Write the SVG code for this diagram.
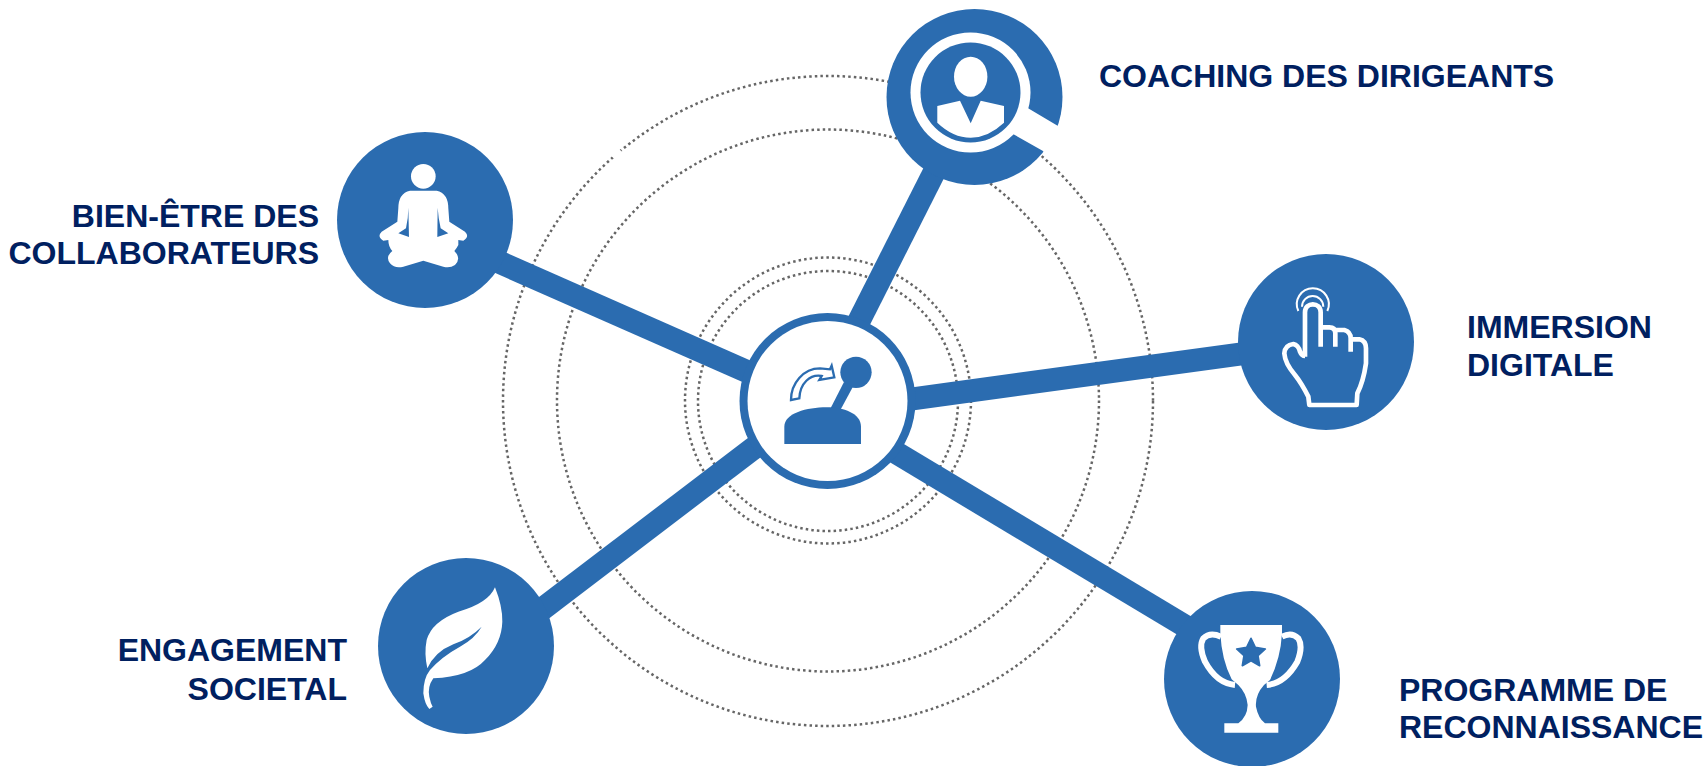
<svg xmlns="http://www.w3.org/2000/svg" width="1705" height="766" viewBox="0 0 1705 766">
<style>
.bg{fill:#fff}
.ring{fill:none;stroke:#666;stroke-width:2.5;stroke-dasharray:2.5 3.1}
.link{stroke:#2b6cb0;stroke-width:23;fill:none}
.disc{fill:#2b6cb0}
.w{fill:#fff}
.ws{fill:none;stroke:#fff;stroke-linejoin:round;stroke-linecap:butt}
.lbl{font-family:"Liberation Sans",Arial,sans-serif;font-weight:700;font-size:32px;fill:#002060}
.end{text-anchor:end}
</style>
<rect class="bg" width="1705" height="766"/>
<g id="rings">
<circle class="ring" cx="828" cy="401" r="325"/>
<circle class="ring" cx="828" cy="400.5" r="271"/>
<circle class="ring" cx="828" cy="400.5" r="143"/>
<circle class="ring" cx="828" cy="401" r="130"/>
<line x1="613.5" y1="158" x2="620" y2="150" stroke="#fff" stroke-width="5"/>
</g>
<g id="connectors">
<line class="link" x1="470" y1="249.3" x2="780" y2="386"/>
<line class="link" x1="947.6" y1="145.6" x2="830.8" y2="376.8"/>
<line class="link" x1="1260" y1="351.4" x2="880" y2="403.3"/>
<line class="link" x1="520" y1="626" x2="780" y2="428"/>
<line class="link" x1="1210" y1="641" x2="870" y2="437"/>
</g>
<g id="node-centre">
<circle class="disc" cx="827.5" cy="401" r="88"/>
<circle class="w" cx="827.5" cy="401" r="80"/>
<g transform="translate(720 300) scale(.3333)">
<circle class="disc" cx="408" cy="217" r="47"/>
<path class="disc" d="M372,246L398,262L360,332L331,326Z"/>
<path class="disc" d="M193,432V380C193,340 260,322 320,322C370,322 423,340 423,380V432Z"/>
<path d="M213,300C213,250 250,205 300,205L330,208L335,197L343,232L298,240L305,228C270,222 240,250 238,295Z" fill="#fff" stroke="#2b6cb0" stroke-width="7"/>
</g>
</g>
<g id="node-coaching">
<circle class="disc" cx="974.5" cy="97" r="88"/>
<circle class="w" cx="970.5" cy="92.5" r="60"/>
<circle class="disc" cx="970.5" cy="92.5" r="50"/>
<polygon class="w" points="1027.7,108 1058,126 1070,134 1050,160 1043,151 1013,134"/>
<ellipse class="w" cx="970.7" cy="76.7" rx="16.7" ry="20"/>
<path class="w" d="M937.3,106L960,100.7L970.7,123.3L980.7,100.7L1004,106V122.7Q988,137.7 970.7,137.7Q953,137.7 937.3,122.7Z"/>
<text class="lbl" x="1099" y="87">COACHING DES DIRIGEANTS</text>
</g>
<g id="node-bienetre">
<circle class="disc" cx="425" cy="220" r="88"/>
<g transform="translate(330 125) scale(.3333)">
<circle class="w" cx="280" cy="154" r="37"/>
<path class="w" d="M240,197H320Q355,205 355,250L358,290L405,320Q420,335 400,347L385,345V360Q380,370 373,378Q395,400 375,420Q360,430 340,425L280,407L220,425Q195,432 180,415Q165,395 187,378Q175,365 175,345L160,347Q140,335 155,320L202,290L205,250Q205,205 240,197Z"/>
<path class="disc" d="M235,248L237,336L205,325L228,310Q235,280 235,248Z"/>
<path class="disc" d="M323,248L322,336L355,325L332,310Q325,280 323,248Z"/>
</g>
<text class="lbl end" x="319" y="226.5">BIEN-ÊTRE DES</text>
<text class="lbl end" x="319" y="264">COLLABORATEURS</text>
</g>
<g id="node-immersion">
<circle class="disc" cx="1326" cy="342" r="88"/>
<g transform="translate(1230 250) scale(.3333)">
<path class="ws" stroke-width="14" d="M225,320V187C225,155 272,155 272,187V290M272,232H298Q316,232 316,250V290M316,240H343Q362,245 362,265V305M362,268H388Q408,272 408,295V340Q400,395 382,430L380,465H238L235,440Q215,400 195,375Q165,340 163,310Q165,285 190,282Q205,285 210,305Q215,318 225,318"/>
<path class="ws" stroke-width="6" d="M205,183A48,48 0 1 1 292,183"/>
<path class="ws" stroke-width="6" d="M216,170A32,32 0 0 1 280,170"/>
</g>
<text class="lbl" x="1467" y="338">IMMERSION</text>
<text class="lbl" x="1467" y="376">DIGITALE</text>
</g>
<g id="node-engagement">
<circle class="disc" cx="466" cy="646" r="88"/>
<g transform="translate(370 550) scale(.3333)">
<path class="w" d="M375,112Q398,170 397,215Q395,280 345,330Q300,380 190,385Q172,410 178,440Q182,460 188,470L178,477Q165,465 160,430Q160,385 180,360Q215,320 270,290Q315,265 335,230Q300,265 250,283Q195,305 172,355Q162,310 170,270Q185,215 265,185Q355,160 375,112Z"/>
</g>
<text class="lbl end" x="347" y="661">ENGAGEMENT</text>
<text class="lbl end" x="347" y="700">SOCIETAL</text>
</g>
<g id="node-programme">
<circle class="disc" cx="1252" cy="679" r="88"/>
<g transform="translate(1160 580) scale(.3333)">
<path class="w" d="M181,135H366V160Q362,235 330,300L312,315Q285,345 288,380Q295,415 315,430H355V458H193V430H235Q262,410 263,375Q260,340 235,315L215,298Q185,240 181,160Z"/>
<path class="ws" stroke-width="18" d="M183,170Q150,155 130,175Q115,200 135,245Q170,310 225,315"/>
<path class="ws" stroke-width="18" d="M366,170Q395,155 415,175Q430,200 412,245Q375,310 320,315"/>
<polygon class="disc" stroke="#2b6cb0" stroke-width="5" stroke-linejoin="round" points="273,175 286,202 316,207 294,227 299,257 273,242 247,257 252,227 230,207 260,202"/>
</g>
<text class="lbl" x="1399" y="700.5">PROGRAMME DE</text>
<text class="lbl" x="1399" y="738">RECONNAISSANCE</text>
</g>
</svg>
